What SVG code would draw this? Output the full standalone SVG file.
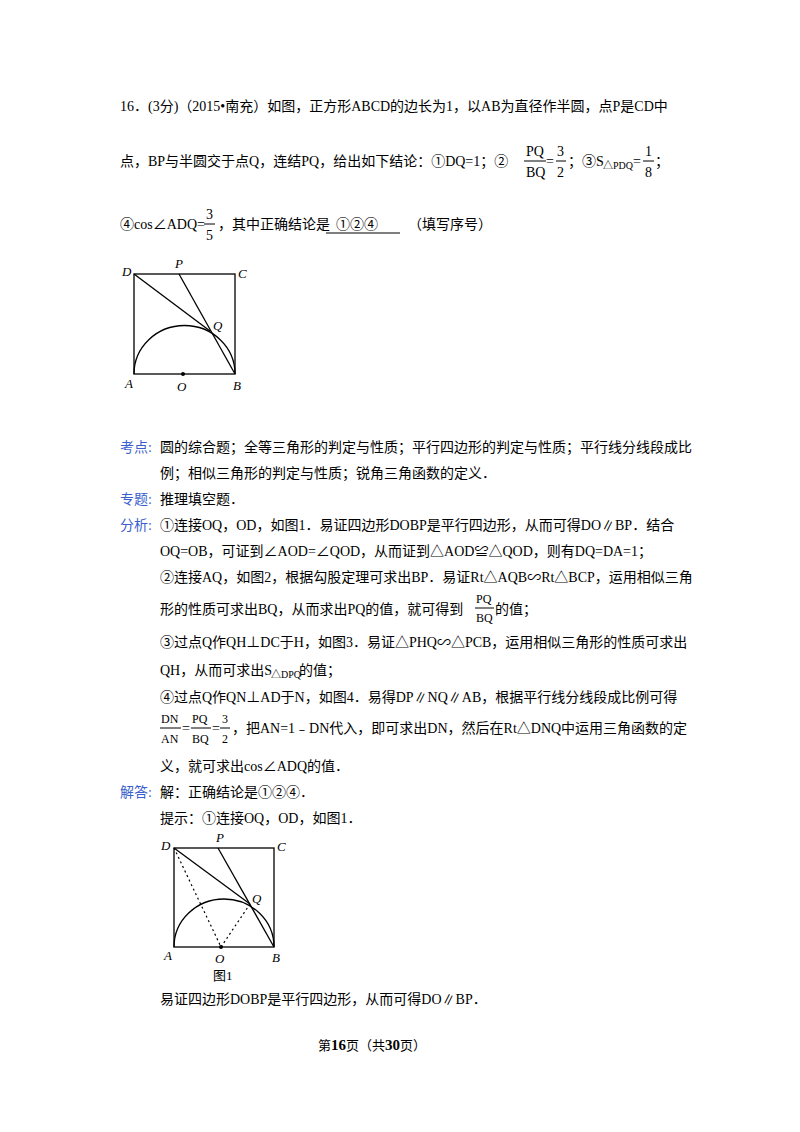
<svg xmlns="http://www.w3.org/2000/svg" width="800" height="1132" viewBox="0 0 800 1132">
<style>
text{font-family:"Liberation Serif","Noto Sans CJK SC",serif;font-size:14px;fill:#000}
.b{fill:#3a5fcd}
.l{font-style:italic;font-size:13px}
.g{fill:none;stroke:#000;stroke-width:1.3}
.d{fill:none;stroke:#000;stroke-width:1.2;stroke-dasharray:2,3}
.s{font-size:10px}
</style>
<rect width="800" height="1132" fill="#fff"/>
<text x="120" y="111">16．(3分)（2015•南充）如图，正方形ABCD的边长为1，以AB为直径作半圆，点P是CD中</text>
<text x="120" y="166">点，BP与半圆交于点Q，连结PQ，给出如下结论：①DQ=1；②</text>
<text x="526" y="156">PQ</text><line x1="524" y1="161" x2="546" y2="161" stroke="#000"/><text x="526" y="177">BQ</text>
<text x="546" y="166">=</text><text x="557" y="156">3</text><line x1="556" y1="161" x2="566" y2="161" stroke="#000"/><text x="557" y="177">2</text>
<text x="568" y="166">；③S</text><text x="603" y="169" class="s">△PDQ</text><text x="633" y="166">=</text>
<text x="645" y="156">1</text><line x1="643" y1="161" x2="654" y2="161" stroke="#000"/><text x="645" y="177">8</text><text x="655" y="166">；</text>
<text x="120" y="229">④cos∠ADQ=</text><text x="206" y="219">3</text><line x1="204" y1="224" x2="215" y2="224" stroke="#000"/><text x="206" y="240">5</text>
<text x="218" y="229">，其中正确结论是</text><text x="336" y="229">①②④</text><line x1="326" y1="233" x2="400" y2="233" stroke="#000"/><text x="408" y="229">（填写序号）</text>
<g id="fig1">
<rect x="134" y="274" width="101" height="100" class="g"/>
<path d="M134,374 A50,48 0 0 1 235,374" class="g"/>
<line x1="134" y1="274" x2="210" y2="331" class="g"/>
<line x1="179" y1="274" x2="235" y2="374" class="g"/>
<circle cx="183" cy="374" r="2"/>
<text x="122" y="276" class="l">D</text><text x="175" y="268" class="l">P</text><text x="238" y="278" class="l">C</text>
<text x="213" y="330" class="l">Q</text><text x="125" y="388" class="l">A</text><text x="177" y="391" class="l">O</text><text x="233" y="390" class="l">B</text>
</g>
<text x="120" y="452" class="b">考点:</text><text x="160" y="452">圆的综合题；全等三角形的判定与性质；平行四边形的判定与性质；平行线分线段成比</text>
<text x="160" y="478">例；相似三角形的判定与性质；锐角三角函数的定义．</text>
<text x="120" y="504" class="b">专题:</text><text x="160" y="504">推理填空题．</text>
<text x="120" y="530" class="b">分析:</text><text x="160" y="530">①连接OQ，OD，如图1．易证四边形DOBP是平行四边形，从而可得DO∥BP．结合</text>
<text x="160" y="556">OQ=OB，可证到∠AOD=∠QOD，从而证到△AOD≌△QOD，则有DQ=DA=1；</text>
<text x="160" y="582">②连接AQ，如图2，根据勾股定理可求出BP．易证Rt△AQB∽Rt△BCP，运用相似三角</text>
<text x="160" y="614">形的性质可求出BQ，从而求出PQ的值，就可得到</text>
<text x="476" y="603" style="font-size:12px">PQ</text><line x1="475" y1="608" x2="494" y2="608" stroke="#000"/><text x="476" y="622" style="font-size:12px">BQ</text><text x="495" y="614">的值；</text>
<text x="160" y="647">③过点Q作QH⊥DC于H，如图3．易证△PHQ∽△PCB，运用相似三角形的性质可求出</text>
<text x="160" y="675">QH，从而可求出S</text><text x="271" y="678" class="s">△DPQ</text><text x="299" y="675">的值；</text>
<text x="160" y="702">④过点Q作QN⊥AD于N，如图4．易得DP∥NQ∥AB，根据平行线分线段成比例可得</text>
<text x="161" y="723" style="font-size:12px">DN</text><line x1="160" y1="728" x2="181" y2="728" stroke="#000"/><text x="161" y="743" style="font-size:12px">AN</text>
<text x="182" y="733">=</text><text x="192" y="723" style="font-size:12px">PQ</text><line x1="191" y1="728" x2="211" y2="728" stroke="#000"/><text x="192" y="743" style="font-size:12px">BQ</text>
<text x="212" y="733">=</text><text x="222" y="723" style="font-size:12px">3</text><line x1="220" y1="728" x2="230" y2="728" stroke="#000"/><text x="222" y="743" style="font-size:12px">2</text>
<text x="232" y="733">，把AN=1﹣DN代入，即可求出DN，然后在Rt△DNQ中运用三角函数的定</text>
<text x="160" y="771">义，就可求出cos∠ADQ的值．</text>
<text x="120" y="797" class="b">解答:</text><text x="160" y="797">解：正确结论是①②④．</text>
<text x="160" y="823">提示：①连接OQ，OD，如图1．</text>
<g id="fig2">
<rect x="174" y="848" width="100" height="99" class="g"/>
<path d="M174,947 A50,48 0 0 1 274,947" class="g"/>
<line x1="174" y1="848" x2="250" y2="904" class="g"/>
<line x1="218" y1="848" x2="274" y2="947" class="g"/>
<line x1="174" y1="848" x2="221" y2="947" class="d"/>
<line x1="221" y1="947" x2="250" y2="904" class="d"/>
<circle cx="221" cy="947" r="2"/>
<text x="161" y="850" class="l">D</text><text x="216" y="842" class="l">P</text><text x="277" y="851" class="l">C</text>
<text x="252" y="903" class="l">Q</text><text x="164" y="960" class="l">A</text><text x="215" y="963" class="l">O</text><text x="272" y="962" class="l">B</text>
<text x="213" y="980" style="font-size:13px">图1</text>
</g>
<text x="160" y="1004">易证四边形DOBP是平行四边形，从而可得DO∥BP．</text>
<text x="318" y="1050" style="font-size:13px">第<tspan font-weight="bold" font-size="15">16</tspan>页（共<tspan font-weight="bold" font-size="15">30</tspan>页）</text>
</svg>
